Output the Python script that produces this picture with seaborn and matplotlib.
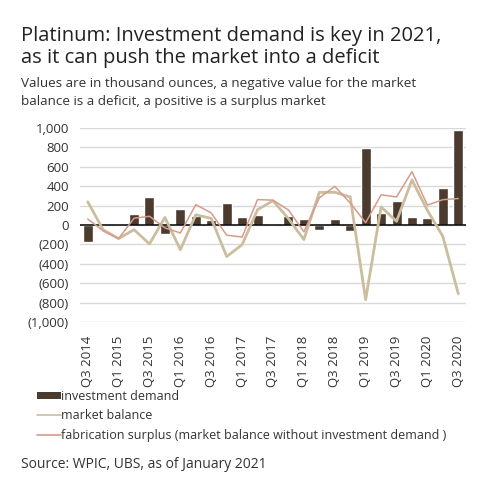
import numpy as np
import pandas as pd
import matplotlib
matplotlib.use('Agg')
import matplotlib.pyplot as plt
import seaborn as sns
from matplotlib.ticker import FuncFormatter
from matplotlib.lines import Line2D
from matplotlib.patches import Patch

sns.set_style('white')
plt.rcParams['font.family'] = ['Open Sans', 'DejaVu Sans']

# ── DATA (thousand ounces) ──
quarters = ['Q3 2014', 'Q4 2014', 'Q1 2015', 'Q2 2015', 'Q3 2015', 'Q4 2015',
            'Q1 2016', 'Q2 2016', 'Q3 2016', 'Q4 2016', 'Q1 2017', 'Q2 2017',
            'Q3 2017', 'Q4 2017', 'Q1 2018', 'Q2 2018', 'Q3 2018', 'Q4 2018',
            'Q1 2019', 'Q2 2019', 'Q3 2019', 'Q4 2019', 'Q1 2020', 'Q2 2020',
            'Q3 2020']
investment_demand = [-175, 0, 0, 113, 285, -96, 165, 96, 48, 225, 79, 105,
                     0, 96, 58, -54, 64, -63, 794, 124, 251, 82, 70, 381, 983]
market_balance = [240, -50, -140, -48, -195, 78, -255, 106, 68, -325, -203, 158,
                  250, 65, -150, 337, 337, 289, -770, 186, 38, 464, 150, -117, -708]
fabrication_surplus = [62, -60, -140, 70, 90, -30, -82, 210, 124, -105, -124, 262,
                       256, 155, -70, 280, 398, 227, 24, 311, 289, 550, 205, 261, 273]
yticks = [1000, 800, 600, 400, 200, 0, -200, -400, -600, -800, -1000]
legend_labels = ['investment demand', 'market balance',
                 'fabrication surplus (market balance without investment demand )']

df = pd.DataFrame({'quarter': quarters,
                   'investment demand': investment_demand,
                   'market balance': market_balance,
                   'fabrication surplus': fabrication_surplus})
df['pos'] = np.arange(len(df))

c_bar = '#4b3a2e'
c_mb = '#cbbe9e'
c_fab = '#d89a8a'

fig = plt.figure(figsize=(5.03, 4.88), dpi=100)
ax = fig.add_axes([80 / 503, 1 - 322 / 488, 386 / 503, 194 / 488])

sns.barplot(data=df, x='quarter', y='investment demand', color=c_bar,
            width=0.65, ax=ax, saturation=1)
sns.lineplot(data=df, x='pos', y='market balance', color=c_mb, lw=2,
             ax=ax, sort=False)
sns.lineplot(data=df, x='pos', y='fabrication surplus', color=c_fab, lw=1.1,
             ax=ax, sort=False)

ax.set_ylim(-1000, 1000)
ax.set_xlim(-0.5, len(df) - 0.5)
ax.set_yticks(yticks)
ax.yaxis.set_major_formatter(FuncFormatter(
    lambda v, p: '({:,.0f})'.format(abs(v)) if v < 0 else '{:,.0f}'.format(v)))
ax.set_xticks(df['pos'][::2])
ax.set_xticklabels(df['quarter'][::2], rotation=90)
ax.tick_params(axis='y', length=0, labelsize=9.5, colors='#333333', pad=8)
ax.tick_params(axis='x', length=0, labelsize=9.5, colors='#333333', pad=10)
ax.set_xlabel('')
ax.set_ylabel('')
for s in ax.spines.values():
    s.set_visible(False)
ax.yaxis.grid(True, color='#d9d9d9', lw=1)
ax.set_axisbelow(True)
ax.axhline(0, color='black', lw=1.1, zorder=1.5)

handles = [Patch(facecolor=c_bar, edgecolor='none'),
           Line2D([], [], color=c_mb, lw=1.2),
           Line2D([], [], color=c_fab, lw=1.2)]
fig.legend(handles, legend_labels,
           loc='upper left', bbox_to_anchor=(37 / 503, 1 - 390 / 488),
           frameon=False, fontsize=9, handlelength=1.9, handleheight=0.45,
           handletextpad=0.05, labelspacing=0.5, borderaxespad=0,
           borderpad=0, labelcolor='#333333')

fig.text(21 / 503, 1 - 26 / 488,
         'Platinum: Investment demand is key in 2021,\nas it can push the market into a deficit',
         fontsize=14.5, color='#222222', va='top', ha='left', linespacing=1.1)
fig.text(21 / 503, 1 - 77 / 488,
         'Values are in thousand ounces, a negative value for the market\n'
         'balance is a deficit, a positive is a surplus market',
         fontsize=9.7, color='#333333', va='top', ha='left', linespacing=1.55)
fig.text(21 / 503, 1 - 457 / 488, 'Source: WPIC, UBS, as of January 2021',
         fontsize=10, color='#333333', va='top', ha='left')

plt.savefig('out.png', dpi=100)
plt.close()
